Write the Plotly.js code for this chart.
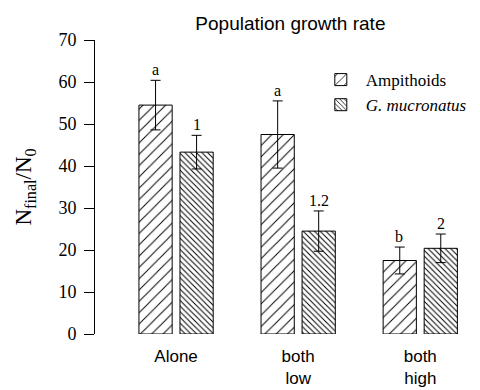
<!DOCTYPE html>
<html>
<head>
<meta charset="utf-8">
<script src="https://cdn.plot.ly/plotly-3.0.1.min.js"></script>
<style>html,body{margin:0;padding:0;background:#fff;}#chart{width:480px;height:390px;}</style>
</head>
<body>
<div id="chart"></div>
<script>
const categories = ["Alone", "both<br>low", "both<br>high"];
const seriesNames = ["Ampithoids", "<i>G. mucronatus</i>"];
const ampValues = [54.5, 47.5, 17.5];
const ampErrors = [5.9, 8.0, 3.2];
const ampLetters = ["a", "a", "b"];
const gmValues = [43.3, 24.5, 20.4];
const gmErrors = [4.0, 4.8, 3.4];
const gmLetters = ["1", "1.2", "2"];
const yTicks = [0, 10, 20, 30, 40, 50, 60, 70];

const serif = "Liberation Serif, Times New Roman, serif";
const sans = "Liberation Sans, Arial, sans-serif";

const traces = [
  {
    type: "bar", name: seriesNames[0], x: categories, y: ampValues,
    error_y: {type: "data", array: ampErrors, visible: true, color: "#000", thickness: 1, width: 5},
    marker: {color: "#fff", line: {color: "#000", width: 1},
      pattern: {shape: "/", fgcolor: "#000", bgcolor: "#fff", size: 8, solidity: 0.12}}
  },
  {
    type: "bar", name: seriesNames[1], x: categories, y: gmValues,
    error_y: {type: "data", array: gmErrors, visible: true, color: "#000", thickness: 1, width: 5},
    marker: {color: "#fff", line: {color: "#000", width: 1},
      pattern: {shape: "\\", fgcolor: "#000", bgcolor: "#fff", size: 4, solidity: 0.25}}
  }
];

const annotations = [];
categories.forEach((c, i) => {
  annotations.push({x: c, y: ampValues[i] + ampErrors[i], xref: "x", yref: "y", text: ampLetters[i],
    showarrow: false, yanchor: "bottom", xshift: -21, yshift: 0, font: {family: serif, size: 16, color: "#000"}});
  annotations.push({x: c, y: gmValues[i] + gmErrors[i], xref: "x", yref: "y", text: gmLetters[i],
    showarrow: false, yanchor: "bottom", xshift: 21, yshift: 0, font: {family: serif, size: 16, color: "#000"}});
});

const layout = {
  width: 480, height: 390,
  margin: {l: 95, r: 8, t: 40, b: 56},
  paper_bgcolor: "#fff", plot_bgcolor: "#fff",
  title: {text: "Population growth rate", font: {family: sans, size: 19, color: "#000"},
    x: 0.605, xanchor: "center", y: 0.94, yanchor: "middle"},
  barmode: "group", bargap: 0.328, bargroupgap: 0.19,
  xaxis: {range: [-0.664, 2.35], showline: false, ticks: "", showgrid: false, zeroline: false,
    ticklabelstandoff: 10,
    tickfont: {family: sans, size: 17, color: "#000"}, fixedrange: true},
  yaxis: {range: [0, 70], tickvals: yTicks, showline: true, linecolor: "#000", linewidth: 1,
    ticks: "outside", ticklen: 10, tickcolor: "#000", tickwidth: 1, ticklabelstandoff: 4,
    showgrid: false, zeroline: false,
    tickfont: {family: serif, size: 18, color: "#000"},
    title: {text: "N<sub>final</sub>/N<sub>0</sub>", font: {family: serif, size: 23, color: "#000"}, standoff: 20}},
  legend: {x: 0.6, y: 0.925, xanchor: "left", yanchor: "top", bgcolor: "rgba(0,0,0,0)",
    font: {family: serif, size: 17, color: "#000"}, itemwidth: 40, tracegroupgap: 0},
  annotations: annotations,
  showlegend: true
};

Plotly.newPlot("chart", traces, layout, {displayModeBar: false, staticPlot: true});
</script>
</body>
</html>
